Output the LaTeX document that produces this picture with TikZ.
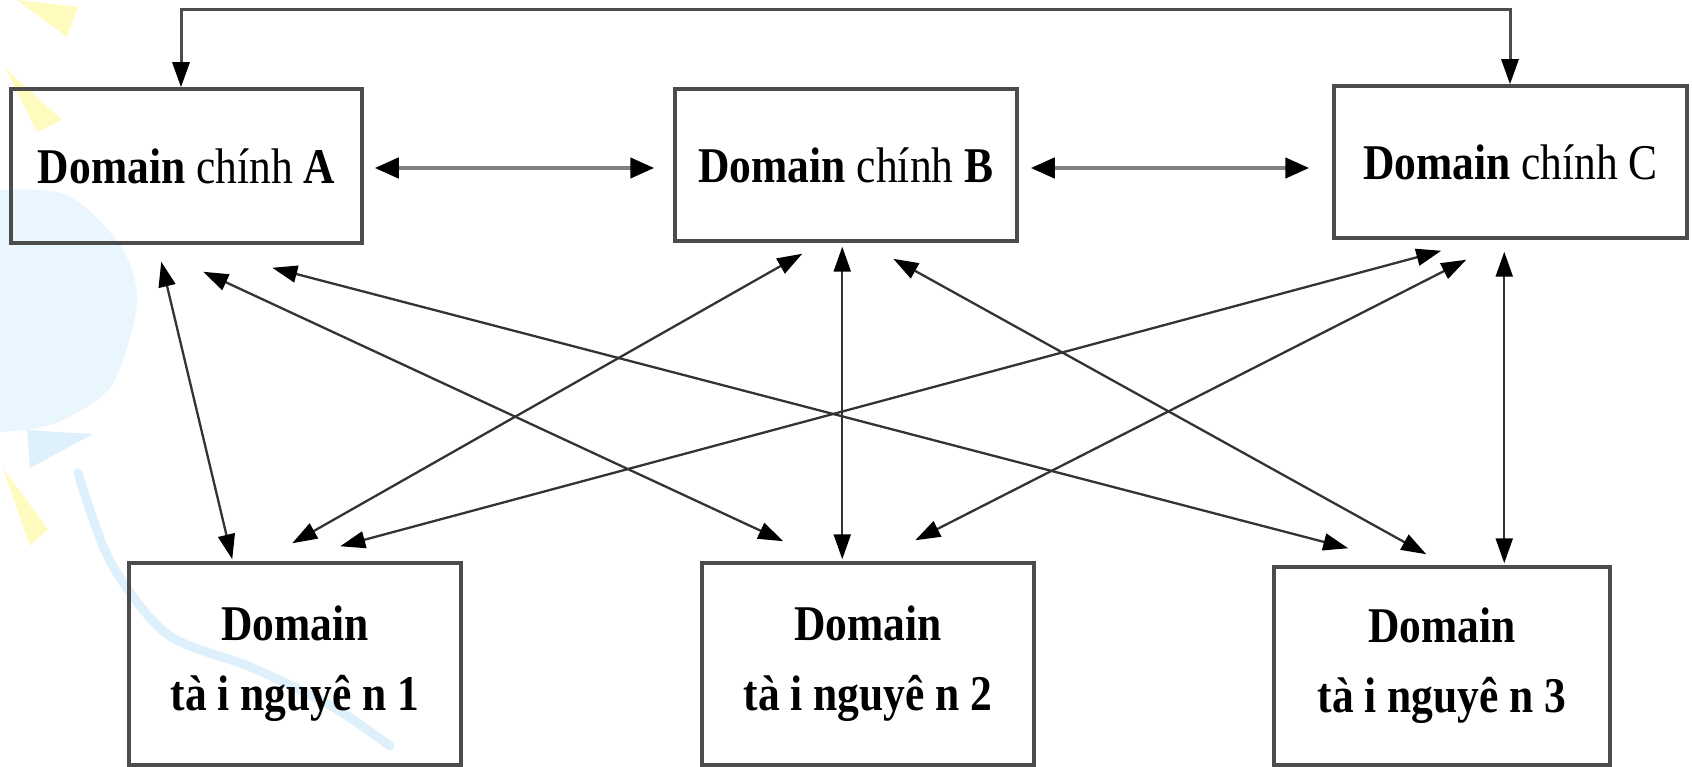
\documentclass[tikz,border=0pt]{standalone}
\usepackage{fontspec}
\setmainfont{Liberation Serif}[FakeStretch=0.87]
\usetikzlibrary{arrows.meta,calc}
\definecolor{decoblue}{RGB}{234,246,254}
\definecolor{decoblueB}{RGB}{222,240,252}
\definecolor{decoyellow}{RGB}{255,250,190}
\begin{document}
\begin{tikzpicture}[x=1pt,y=-1pt,
  box/.style={draw=black!70, line width=3.5pt, inner sep=0pt, align=center,
    font=\fontsize{50}{70}\selectfont},
  link/.style={draw=black!80, line width=2.3pt,
    {Triangle[length=25pt,width=17pt,color=black]}-{Triangle[length=25pt,width=17pt,color=black]}},
  hlink/.style={draw=black!50, line width=4.5pt,
    {Triangle[length=24pt,width=20pt,color=black]}-{Triangle[length=24pt,width=20pt,color=black]}},
  deco/.style={draw=none}
]
\useasboundingbox (0,0) rectangle (1692,767);
% faint background decoration
\fill[deco, decoblue] (0,190) -- plot[smooth] coordinates
  {(0,190) (67,195) (120,245) (137,302) (112,385) (63,420) (27,430)} -- (0,432) -- cycle;
\fill[deco, decoblueB] (27,430) -- (93,434) -- (30,468) -- cycle;
\draw[decoblueB, line width=9pt, line cap=round] plot[smooth] coordinates
  {(78,473) (110,561) (167,634) (253,668) (333,707) (390,746)};
\fill[deco, decoyellow] (17,0) -- (78,7) -- (67,37) -- cycle;
\fill[deco, decoyellow] (5,68) -- (62,120) -- (37,132) -- cycle;
\fill[deco, decoyellow] (3,468) -- (48,529) -- (30,546) -- cycle;

% nodes
\node[box, minimum width=351pt, minimum height=154pt] (A) at (186.5,166)
  {\bfseries Domain \mdseries chính \bfseries A};
\node[box, minimum width=342pt, minimum height=152pt] (B) at (846,165)
  {\bfseries Domain \mdseries chính \bfseries B};
\node[box, minimum width=353pt, minimum height=152pt] (C) at (1510.5,162)
  {\bfseries Domain \mdseries chính C};
\node[box, minimum width=332pt, minimum height=202pt] (N1) at (295,664)
  {\bfseries Domain\\\bfseries tà i nguyê n 1};
\node[box, minimum width=332pt, minimum height=202pt] (N2) at (868,664)
  {\bfseries Domain\\\bfseries tà i nguyê n 2};
\node[box, minimum width=336pt, minimum height=198pt] (N3) at (1442,666)
  {\bfseries Domain\\\bfseries tà i nguyê n 3};

% top connector
\coordinate (topL) at (181,10);
\coordinate (topR) at (1510,10);
\draw[link, draw=black!70, line width=3pt] (A.north -| topL) -- (topL) -- (topR) -- (C.north -| topR);

% horizontal
\draw[hlink] ($(A.east)+(11,2)$) -- ($(B.west)+(-19,3)$);
\draw[hlink] ($(B.east)+(12,3)$) -- ($(C.west)+(-23,6)$);

% diagonals
\draw[link] ($(A.south west)+(152,17)$) -- ($(N1.north west)+(105,-2)$);
\draw[link] ($(A.south west)+(194,27)$) -- ($(N2.north west)+(83,-20)$);
\draw[link] ($(A.south west)+(263,23)$) -- ($(N3.north west)+(76,-17)$);
\draw[link] ($(B.south west)+(129,11)$) -- ($(N1.north west)+(165,-18)$);
\draw[link] ($(B.south west)+(169,4)$) -- ($(N2.north west)+(142,-2)$);
\draw[link] ($(B.south west)+(220,16)$) -- ($(N3.north west)+(154,-11)$);
\draw[link] ($(C.south west)+(109,11)$) -- ($(N1.north west)+(213,-15)$);
\draw[link] ($(C.south west)+(134,20)$) -- ($(N2.north west)+(215,-21)$);
\draw[link] ($(C.south west)+(172,12)$) -- ($(N3.north west)+(232,-2)$);
\end{tikzpicture}
\end{document}
